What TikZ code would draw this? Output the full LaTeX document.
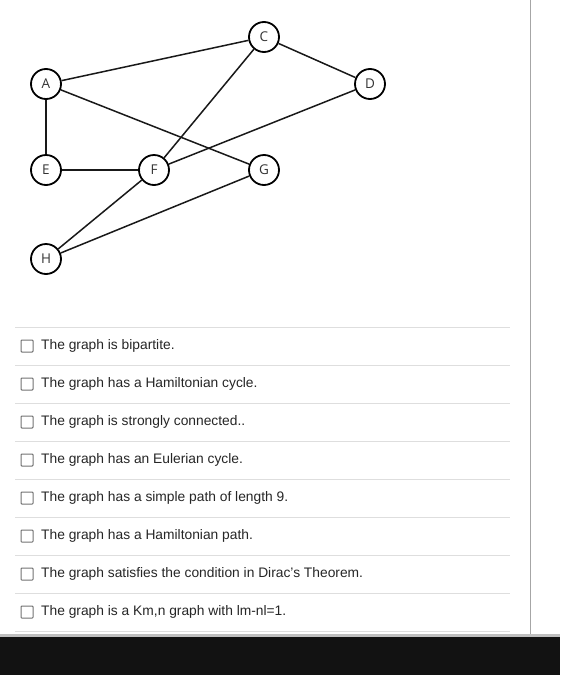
\documentclass[tikz,border=0pt]{standalone}
\usepackage{fontspec}
\setmainfont{Liberation Sans}
\newfontfamily\nodefont{Open Sans}
\begin{document}
\begin{tikzpicture}[x=1pt,y=-1pt,
  vtx/.style={circle,draw=black,line width=1.8pt,minimum size=30pt,inner sep=0pt,font=\nodefont\fontsize{13.5}{15}\selectfont,text=black!80},
  edge/.style={line width=1.5pt,black!90},
  sep/.style={draw=black!13,line width=0.9pt},
  cbox/.style={draw=black!55,line width=1pt,rounded corners=0.8pt,minimum size=12pt,inner sep=0pt},
  opt/.style={anchor=west,font=\fontsize{13.8}{16}\selectfont,text=black!85,inner sep=0pt}]
\useasboundingbox (0,0) rectangle (560,675);
\fill[white] (0,0) rectangle (560,675);
% graph
\node[vtx] (A) at (46,84) {A};
\node[vtx] (C) at (264,37) {C};
\node[vtx] (D) at (370,84) {D};
\node[vtx] (E) at (46,170) {E};
\node[vtx] (F) at (154,170) {F};
\node[vtx] (G) at (264,170) {G};
\node[vtx] (H) at (46,259) {H};
\draw[edge] (A) -- (C);
\draw[edge] (C) -- (D);
\draw[edge] (A) -- (G);
\draw[edge] (A) -- (E);
\draw[edge] (E) -- (F);
\draw[edge] (C) -- (F);
\draw[edge] (F) -- (D);
\draw[edge] (F) -- (H);
\draw[edge] (H) -- (G);
% separators
\foreach \i in {0,...,8} {
  \draw[sep] (15,327.5+38*\i) -- (510,327.5+38*\i);
}
% options
\foreach \i/\t in {0/{The graph is bipartite.},
  1/{The graph has a Hamiltonian cycle.},
  2/{The graph is strongly connected..},
  3/{The graph has an Eulerian cycle.},
  4/{The graph has a simple path of length 9.},
  5/{The graph has a Hamiltonian path.},
  6/{The graph satisfies the condition in Dirac's Theorem.},
  7/{The graph is a Km,n graph with lm-nl=1.}} {
  \node[cbox] (b\i) at (27,346+38*\i) {};
  \node[opt] (t\i) at (41,346+38*\i) {\t};
}
% right border
\draw[black!35,line width=1pt] (530.5,0) -- (530.5,637);
% bottom bar
\fill[black!25] (0,634) rectangle (560,637);
\fill[black!93] (0,637) rectangle (560,675);
\end{tikzpicture}
\end{document}
